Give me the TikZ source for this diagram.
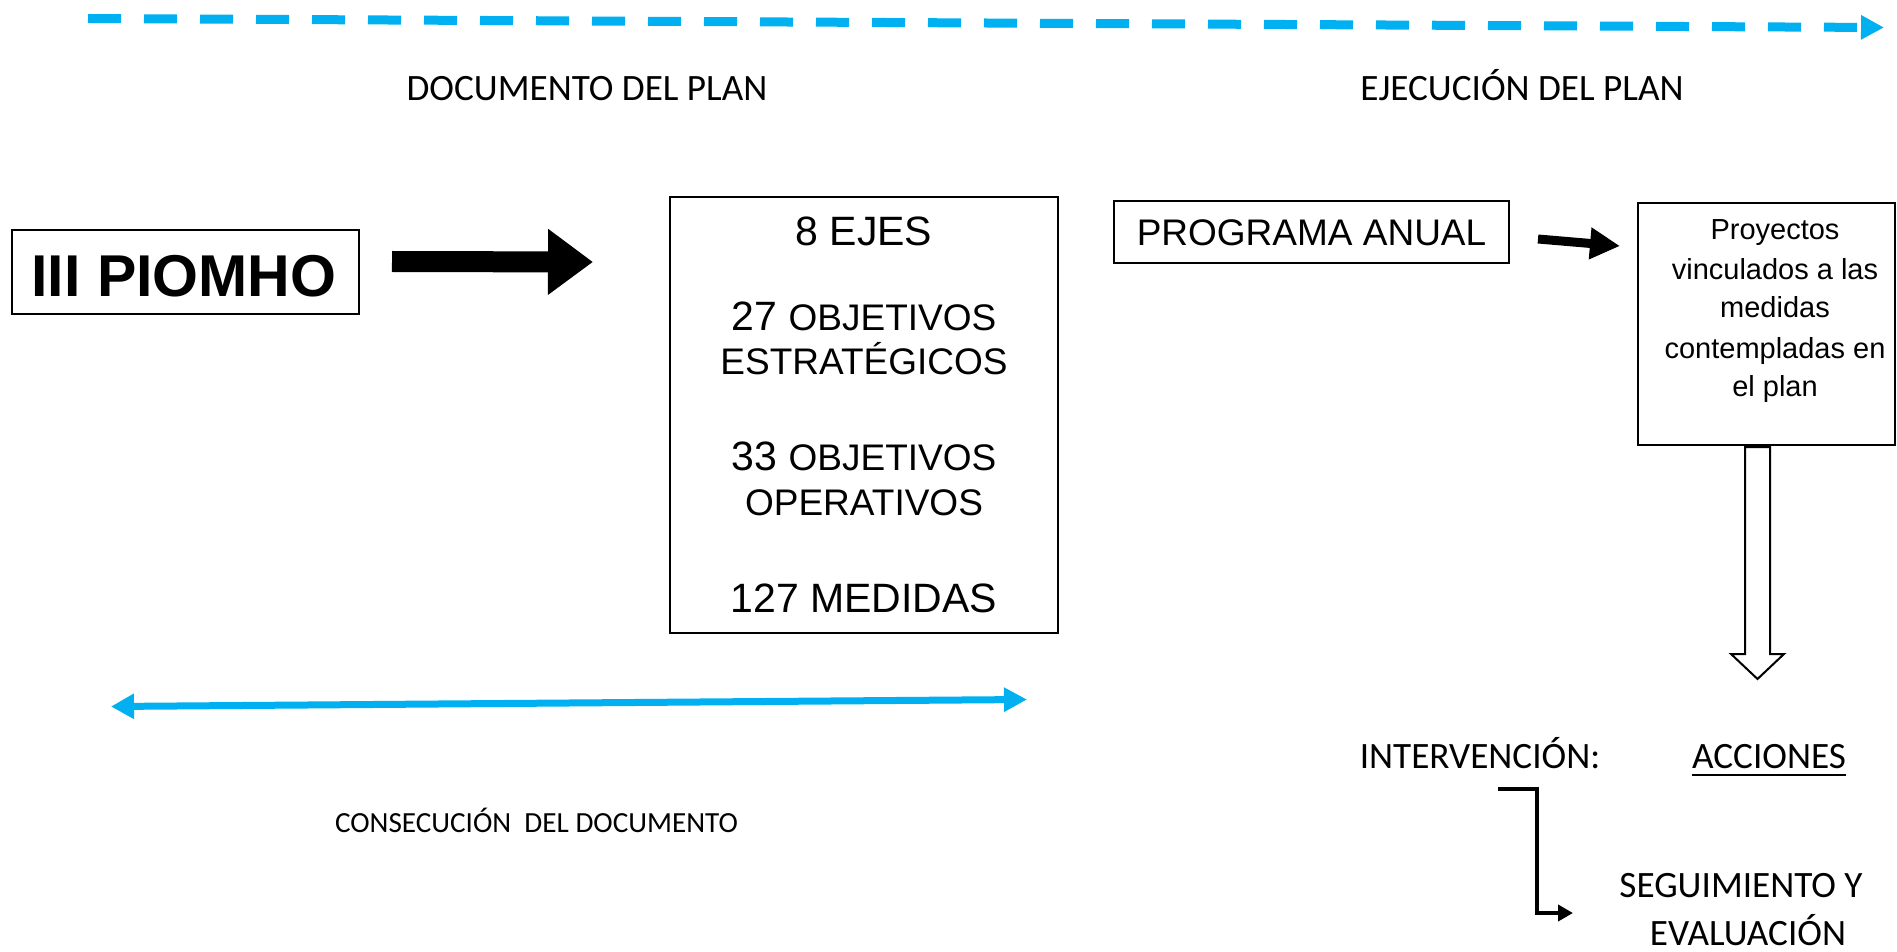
\documentclass[tikz,border=0pt]{standalone}
\usepackage{fontspec}
\setmainfont{Liberation Sans}
\newfontfamily\calib{Carlito}
\usetikzlibrary{arrows.meta}
\definecolor{skyb}{HTML}{00B0F0}
\begin{document}
\begin{tikzpicture}[x=0.5pt,y=-0.5pt,
  box/.style={draw, line width=1pt, inner sep=0pt},
  txt/.style={inner sep=0pt, anchor=base},
  big/.style={font=\fontsize{20.5}{24}\selectfont},
  mid/.style={font=\fontsize{18.5}{22}\selectfont},
  small/.style={font=\fontsize{14.5}{18}\selectfont},
  cal/.style={font=\calib\fontsize{18.6}{22}\selectfont},
  calsmall/.style={font=\calib\fontsize{14.6}{18}\selectfont},
  blockarrow/.style={line width=10.5pt, -{Triangle[length=22.5pt,width=31.5pt]}},
  smallarrow/.style={line width=4.5pt, -{Triangle[length=15pt,width=15pt]}},
  bluearrow/.style={skyb, line width=3.5pt},
]
\useasboundingbox (0,0) rectangle (1897,952);

% top dashed arrow
\coordinate (ds) at (88,18.5);
\coordinate (de) at (1884,27.5);
\draw[skyb, line width=4.5pt, dash pattern=on 16.5pt off 11.5pt,
  -{Triangle[length=11.5pt,width=11.5pt]}] (ds) -- (de);

% headings
\node[txt, cal] (docplan) at (587,101) {DOCUMENTO DEL PLAN};
\node[txt, cal] (ejecplan) at (1522,101) {EJECUCIÓN DEL PLAN};

% III PIOMHO
\node[box, minimum width=173.5pt, minimum height=42pt] (piomho) at (185.5,272) {};
\node[txt, font=\bfseries\fontsize{29.5}{32}\selectfont] (piomhot) at (184,297) {III PIOMHO};

% block arrow
\coordinate (a1s) at (392,261.5);
\coordinate (a1e) at (593,262);
\draw[blockarrow] (a1s) -- (a1e);

% big box
\node[box, minimum width=194pt, minimum height=218pt] (ejes) at (864,415) {};
\node[txt, big] (l1) at (864,246) {8 EJES};
\node[txt] (l2) at (864,331) {\fontsize{20.5}{24}\selectfont 27 \fontsize{18.5}{22}\selectfont OBJETIVOS};
\node[txt, mid] (l3) at (864,375) {ESTRATÉGICOS};
\node[txt] (l4) at (864,470) {\fontsize{20.5}{24}\selectfont 33 \fontsize{18.5}{22}\selectfont OBJETIVOS};
\node[txt, mid] (l5) at (864,515) {OPERATIVOS};
\node[txt, big] (l6) at (864,612) {127 MEDIDAS};

% programa anual
\node[box, minimum width=197.5pt, minimum height=31pt] (prog) at (1311.5,232) {};
\node[txt, mid] (progt) at (1311.5,246) {PROGRAMA ANUAL};

% small arrow
\coordinate (a2s) at (1538,239);
\coordinate (a2e) at (1620,246);
\draw[smallarrow] (a2s) -- (a2e);

% proyectos box
\node[box, minimum width=128.5pt, minimum height=121pt] (proy) at (1766.5,324) {};
\node[txt, small] (p1) at (1775,240) {Proyectos};
\node[txt, small] (p2) at (1775,280) {vinculados a las};
\node[txt, small] (p3) at (1775,318) {medidas};
\node[txt, small] (p4) at (1775,358) {contempladas en};
\node[txt, small] (p5) at (1775,397) {el plan};

% hollow down arrow
\draw[line width=1pt, fill=white, line join=miter]
  (1745,447) -- (1770,447) -- (1770,654) -- (1784,654) -- (1757.5,679)
  -- (1731,654) -- (1745,654) -- cycle;

% blue double arrow
\coordinate (bs) at (111,706.5);
\coordinate (be) at (1027,699.5);
\draw[bluearrow, {Triangle[length=11.5pt,width=12pt]}-{Triangle[length=11.5pt,width=11.5pt]}] (bs) -- (be);

\node[txt, calsmall] (consec) at (536.5,832) {CONSECUCIÓN \ DEL DOCUMENTO};

% intervención / acciones
\node[txt, cal] (interv) at (1480,768) {INTERVENCIÓN:};
\node[txt, cal] (acc) at (1769,768) {ACCIONES};
\draw[line width=1.3pt] ([yshift=-3.5pt]acc.base west) -- ([yshift=-3.5pt]acc.base east);

\node[txt, cal] (seg) at (1741,897) {SEGUIMIENTO Y};
\node[txt, cal] (eval) at (1748,945) {EVALUACIÓN};

% elbow arrow
\coordinate (es) at (1498,789);
\coordinate (ee) at (1573,913);
\draw[line width=2pt, -{Triangle[length=7.5pt,width=8pt]}] (es) -- (1537,789) -- (1537,913) -- (ee);
\end{tikzpicture}
\end{document}
